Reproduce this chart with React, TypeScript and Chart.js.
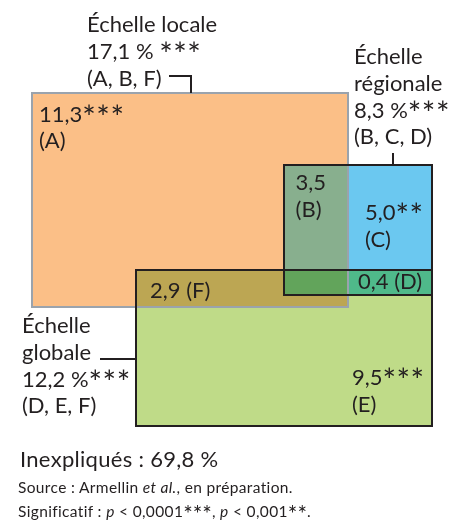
import React, { useEffect, useRef } from "react";
import { Chart, registerables } from "chart.js";

Chart.register(...registerables);

// ---- data ----
const scaleNames = ["Échelle locale", "Échelle régionale", "Échelle globale"];
const scaleTotals = ["17,1 %", "8,3 %", "12,2 %"];
const scaleSignif = ["***", "***", "***"];
const scaleFractions = ["(A, B, F)", "(B, C, D)", "(D, E, F)"];
// rectangle extents (schematic units)
const rectXMin = [8, 71, 34];
const rectXMax = [87, 108, 108];
const rectYMin = [23.25, 41.25, 67.5];
const rectYMax = [76.75, 73.75, 106.5];

const fractionLetters = ["A", "B", "C", "D", "E", "F"];
const fractionValues = ["11,3", "3,5", "5,0", "0,4", "9,5", "2,9"];
const fractionSignif = ["***", "", "**", "", "***", ""];
const unexplained = "69,8 %";

// ---- styles ----
const FONT = '"Lato", "DejaVu Sans", sans-serif';
const TEXT = "#231f20";
const rectFill = ["#fbbf87", "#6bc8f0", "#bfdb88"];
const pairFill: Record<string, string> = { "0-1": "#88af8e", "0-2": "#bca653", "1-2": "#4fb98a" };
const tripleFill = "#62a45b";
const rectBorder = ["#9aa3ad", "#231f20", "#231f20"];

const SIZE = 22;
const LH = 26.8;
const STAR_SCALE = 1.45;

type Block = { x: number; y: number; lines: string[] };

const titleBlocks: Block[] = [
  { x: 21.75, y: 8, lines: [scaleNames[0], `${scaleTotals[0]} ${scaleSignif[0]}`, scaleFractions[0]] },
  { x: 88.5, y: 16, lines: ["Échelle", "régionale", `${scaleTotals[1]}${scaleSignif[1]}`, scaleFractions[1]] },
  { x: 5.5, y: 83.25, lines: ["Échelle", "globale", `${scaleTotals[2]}${scaleSignif[2]}`, scaleFractions[2]] },
];

const fractionBlocks: Block[] = [
  { x: 9.75, y: 30.4, lines: [`${fractionValues[0]}${fractionSignif[0]}`, `(${fractionLetters[0]})`] },
  { x: 73.9, y: 47.5, lines: [`${fractionValues[1]}${fractionSignif[1]}`, `(${fractionLetters[1]})`] },
  { x: 91.25, y: 55, lines: [`${fractionValues[2]}${fractionSignif[2]}`, `(${fractionLetters[2]})`] },
  { x: 89.5, y: 72.25, lines: [`${fractionValues[3]} (${fractionLetters[3]})`] },
  { x: 88, y: 96.25, lines: [`${fractionValues[4]}${fractionSignif[4]}`, `(${fractionLetters[4]})`] },
  { x: 37.5, y: 74.5, lines: [`${fractionValues[5]} (${fractionLetters[5]})`] },
];

// connector polylines (units)
const connectors: number[][][] = [
  [[42.25, 19], [47.75, 19], [47.75, rectYMin[0]]],
  [[98.2, 38.2], [98.2, rectYMin[1]]],
  [[25, 89.75], [rectXMin[2], 89.75]],
];

function drawRich(ctx: CanvasRenderingContext2D, text: string, x: number, y: number) {
  const parts = text.split(/(\*+)/).filter((p) => p.length);
  let cx = x;
  for (const p of parts) {
    if (p[0] === "*") {
      ctx.font = `${SIZE * STAR_SCALE}px ${FONT}`;
      for (const ch of p) {
        ctx.fillText(ch, cx, y + SIZE * 0.34);
        cx += ctx.measureText(ch).width + 0.5;
      }
    } else {
      ctx.font = `${SIZE}px ${FONT}`;
      ctx.fillText(p, cx, y);
      cx += ctx.measureText(p).width;
    }
  }
}

const diagramPlugin = {
  id: "diagram",
  afterDatasetsDraw(chart: any) {
    const { ctx } = chart;
    const xs = chart.scales.x;
    const ys = chart.scales.y;
    const px = (v: number) => xs.getPixelForValue(v);
    const py = (v: number) => ys.getPixelForValue(v);
    const rect = (i: number) => ({ x0: rectXMin[i], x1: rectXMax[i], y0: rectYMin[i], y1: rectYMax[i] });
    const inter = (a: any, b: any) => {
      const r = { x0: Math.max(a.x0, b.x0), x1: Math.min(a.x1, b.x1), y0: Math.max(a.y0, b.y0), y1: Math.min(a.y1, b.y1) };
      return r.x0 < r.x1 && r.y0 < r.y1 ? r : null;
    };
    const fill = (r: any, c: string) => {
      if (!r) return;
      const x0 = Math.round(px(r.x0)), x1 = Math.round(px(r.x1));
      const y0 = Math.round(py(r.y0)), y1 = Math.round(py(r.y1));
      ctx.fillStyle = c;
      ctx.fillRect(Math.min(x0, x1), Math.min(y0, y1), Math.abs(x1 - x0), Math.abs(y1 - y0));
    };
    ctx.save();
    for (let i = 0; i < 3; i++) fill(rect(i), rectFill[i]);
    for (let i = 0; i < 3; i++)
      for (let j = i + 1; j < 3; j++) fill(inter(rect(i), rect(j)), pairFill[`${i}-${j}`]);
    const t01 = inter(rect(0), rect(1));
    fill(t01 ? inter(t01, rect(2)) : null, tripleFill);

    ctx.lineWidth = 2;
    for (let i = 0; i < 3; i++) {
      const r = rect(i);
      ctx.strokeStyle = rectBorder[i];
      const x0 = Math.round(px(r.x0)), x1 = Math.round(px(r.x1));
      const y0 = Math.round(py(r.y0)), y1 = Math.round(py(r.y1));
      ctx.strokeRect(x0, y0, x1 - x0, y1 - y0);
    }

    ctx.strokeStyle = TEXT;
    ctx.lineWidth = 2;
    for (const c of connectors) {
      ctx.beginPath();
      c.forEach((p, k) => {
        const X = Math.round(px(p[0])), Y = Math.round(py(p[1]));
        if (k === 0) ctx.moveTo(X, Y);
        else ctx.lineTo(X, Y);
      });
      ctx.stroke();
    }

    ctx.fillStyle = TEXT;
    ctx.textAlign = "left";
    ctx.textBaseline = "alphabetic";
    for (const b of [...titleBlocks, ...fractionBlocks]) {
      b.lines.forEach((l, k) => drawRich(ctx, l, px(b.x), py(b.y) + k * LH));
    }
    ctx.restore();
  },
};

const Stars = ({ n }: { n: string }) => (
  <span style={{ fontSize: "1.45em", lineHeight: 0, position: "relative", top: "0.24em", letterSpacing: 0 }}>{n}</span>
);

export default function App() {
  const ref = useRef<HTMLCanvasElement | null>(null);
  useEffect(() => {
    if (!ref.current) return;
    const chart = new Chart(ref.current, {
      type: "scatter",
      data: {
        datasets: scaleNames.map((n, i) => ({
          label: n,
          data: [
            { x: rectXMin[i], y: rectYMin[i] },
            { x: rectXMax[i], y: rectYMax[i] },
          ],
          pointRadius: 0,
          showLine: false,
        })),
      },
      options: {
        animation: false,
        responsive: true,
        maintainAspectRatio: false,
        layout: { padding: 0 },
        plugins: { legend: { display: false }, tooltip: { enabled: false } },
        scales: {
          x: { type: "linear", min: 0, max: 113, display: false },
          y: { type: "linear", min: 0, max: 132.25, reverse: true, display: false },
        },
      },
      plugins: [diagramPlugin],
    });
    return () => chart.destroy();
  }, []);

  const small = {
    position: "absolute" as const,
    left: 18,
    fontSize: 15.5,
    lineHeight: "15.5px",
    letterSpacing: "0.35px",
    fontFamily: FONT,
    color: TEXT,
    whiteSpace: "nowrap" as const,
  };
  return (
    <div style={{ position: "absolute", left: 0, top: 0, width: 452, height: 529, background: "#fff" }}>
      <canvas ref={ref} />
      <div
        style={{
          position: "absolute",
          left: 20,
          top: 447.5,
          fontSize: SIZE,
          lineHeight: `${SIZE}px`,
          letterSpacing: "0.3px",
          fontFamily: FONT,
          color: TEXT,
          whiteSpace: "nowrap",
        }}
      >
        Inexpliqués : {unexplained}
      </div>
      <div style={{ ...small, top: 479.5 }}>
        Source : Armellin <i>et al.</i>, en préparation.
      </div>
      <div style={{ ...small, top: 503.5 }}>
        Significatif : <i>p</i> &lt; 0,0001<Stars n="***" />, <i>p</i> &lt; 0,001<Stars n="**" />.
      </div>
    </div>
  );
}
